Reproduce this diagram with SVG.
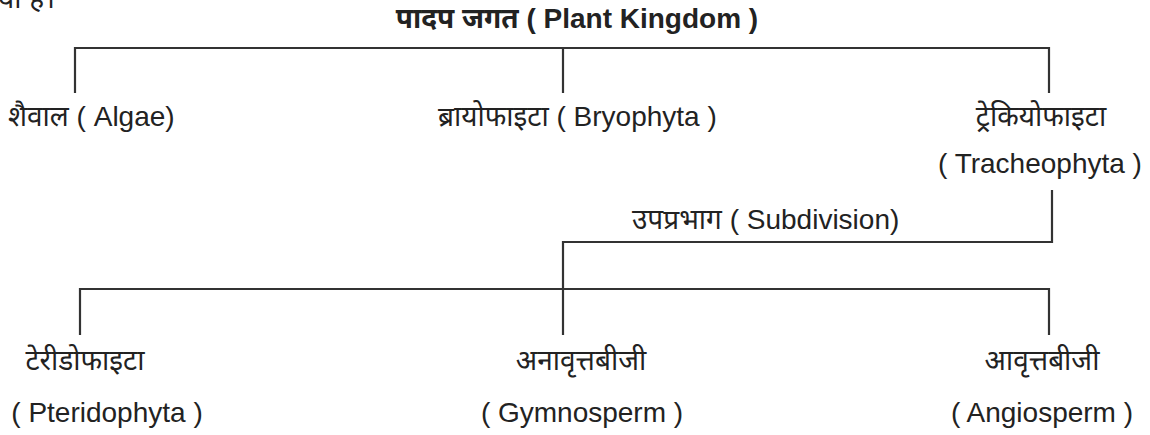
<svg xmlns="http://www.w3.org/2000/svg" width="1150" height="435" viewBox="0 0 1150 435">
<style>
text{font-family:"Liberation Sans","Noto Sans",sans-serif;fill:#222;font-size:28px}
.t{font-weight:bold;font-size:28px}
.m{text-anchor:middle}
.c{fill:none;stroke:#333;stroke-width:2.2}
</style>
<rect width="1150" height="435" fill="#fff"/>
<text x="-2" y="8">या है।</text>
<g id="root"><text class="t m" x="577" y="28">पादप जगत ( Plant Kingdom )</text></g>
<g id="connectors">
<path class="c" d="M75 93V48H1049V93M563 48V93"/>
<path class="c" d="M1052 190V242H563V335M80 335V289H1049V335"/>
</g>
<g id="algae"><text x="8" y="126">शैवाल ( Algae)</text></g>
<g id="bryophyta"><text x="438" y="126">ब्रायोफाइटा ( Bryophyta )</text></g>
<g id="tracheophyta"><text class="m" x="1041" y="126">ट्रेकियोफाइटा</text><text class="m" x="1040" y="173">( Tracheophyta )</text></g>
<g id="subdivision"><text x="632" y="229">उपप्रभाग ( Subdivision)</text></g>
<g id="pteridophyta"><text class="m" x="85" y="370">टेरीडोफाइटा</text><text class="m" x="107" y="422">( Pteridophyta )</text></g>
<g id="gymnosperm"><text class="m" x="581" y="370">अनावृत्तबीजी</text><text class="m" x="582" y="422">( Gymnosperm )</text></g>
<g id="angiosperm"><text class="m" x="1042" y="370">आवृत्तबीजी</text><text class="m" x="1042" y="422">( Angiosperm )</text></g>
</svg>
